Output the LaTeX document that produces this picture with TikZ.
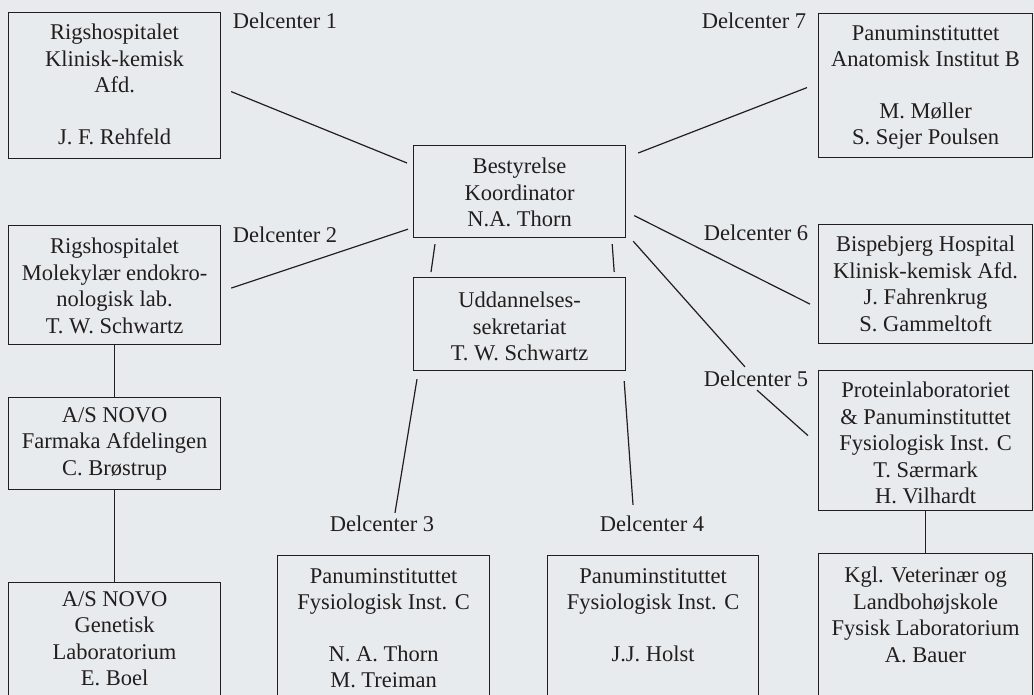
\documentclass[tikz,border=0pt]{standalone}
\usepackage{fontspec}
\setmainfont{Liberation Serif}
\usetikzlibrary{positioning,calc}

\definecolor{paper}{RGB}{232,235,237}
\definecolor{ink}{RGB}{34,30,30}

\tikzset{
  box/.style={draw=ink, line width=1.2pt, anchor=north west, inner sep=0pt},
  txt/.style={align=center, inner sep=0pt, text=ink,
    font=\fontsize{22.5}{26.5}\selectfont},
  centre/.style={inner sep=0pt, text=ink, font=\fontsize{22.5}{26.5}\selectfont},
  link/.style={draw=ink, line width=1.2pt}
}

\begin{document}
\begin{tikzpicture}[x=1pt,y=-1pt]
  \fill[paper] (0,0) rectangle (1034,695);
  \useasboundingbox (0,0) rectangle (1034,695);
  \clip (0,0) rectangle (1034,695);

  % left column
  \node[box, minimum width=212, minimum height=146] (b1) at (8,12) {};
  \node[txt, below=12pt of b1.north] (t1) {Rigshospitalet\\Klinisk-kemisk\\Afd.\\[25pt]J. F. Rehfeld};
  \node[box, minimum width=212, minimum height=119] (b2) at (8,225) {};
  \node[txt, below=13pt of b2.north] (t2) {Rigshospitalet\\Molekylær endokro-\\nologisk lab.\\T. W. Schwartz};
  \node[box, minimum width=212, minimum height=92] (farma) at (8,397) {};
  \node[txt, below=10pt of farma.north] (tfarma) {A/S NOVO\\Farmaka Afdelingen\\C. Brøstrup};
  \node[box, minimum width=212, minimum height=130] (genet) at (8,582) {};
  \node[txt, below=9pt of genet.north] (tgenet) {A/S NOVO\\Genetisk\\Laboratorium\\E. Boel};

  % middle
  \node[box, minimum width=212, minimum height=92] (bestyr) at (413,145) {};
  \node[txt, below=13pt of bestyr.north] (tbestyr) {Bestyrelse\\Koordinator\\N.A. Thorn};
  \node[box, minimum width=212, minimum height=93] (udd) at (413,277) {};
  \node[txt, below=15pt of udd.north] (tudd) {Uddannelses-\\sekretariat\\T. W. Schwartz};
  \node[box, minimum width=212, minimum height=160] (b3) at (277,555) {};
  \node[txt, below=13pt of b3.north] (t3) {Panuminstituttet\\Fysiologisk Inst. C\\[25pt]N. A. Thorn\\M. Treiman};
  \node[box, minimum width=211, minimum height=160] (b4) at (547,555) {};
  \node[txt, below=13pt of b4.north] (t4) {Panuminstituttet\\Fysiologisk Inst. C\\[25pt]J.J. Holst};

  % right column
  \node[box, minimum width=214, minimum height=144] (b7) at (818,13) {};
  \node[txt, below=12pt of b7.north] (t7) {Panuminstituttet\\Anatomisk Institut B\\[25pt]M. Møller\\S. Sejer Poulsen};
  \node[box, minimum width=214, minimum height=119] (b6) at (818,224) {};
  \node[txt, below=12pt of b6.north] (t6) {Bispebjerg Hospital\\Klinisk-kemisk Afd.\\J. Fahrenkrug\\S. Gammeltoft};
  \node[box, minimum width=214, minimum height=140] (b5) at (818,370) {};
  \node[txt, below=12pt of b5.north] (t5) {Proteinlaboratoriet\\\& Panuminstituttet\\Fysiologisk Inst. C\\T. Særmark\\H. Vilhardt};
  \node[box, minimum width=214, minimum height=160] (kgl) at (818,553) {};
  \node[txt, below=14pt of kgl.north] (tkgl) {Kgl. Veterinær og\\Landbohøjskole\\Fysisk Laboratorium\\A. Bauer};

  % delcenter labels
  \node[centre] (d1) at (285,21) {Delcenter 1};
  \node[centre] (d2) at (285,235) {Delcenter 2};
  \node[centre] (d3) at (382,524) {Delcenter 3};
  \node[centre] (d4) at (652,524) {Delcenter 4};
  \node[centre] (d5) at (756,379) {Delcenter 5};
  \node[centre] (d6) at (756,233) {Delcenter 6};
  \node[centre] (d7) at (754,21) {Delcenter 7};

  % connectors
  \draw[link] ($(b1.east)+(10,6)$) -- ($(bestyr.north west)+(-6,18)$);
  \draw[link] ($(b2.east)+(10,3)$) -- ($(bestyr.south west)+(-5,-9)$);
  \draw[link] ($(bestyr.north east)+(12,8)$) -- ($(b7.west)+(-11,2)$);
  \draw[link] ($(bestyr.east)+(8,24)$) -- ($(b6.west)+(-8,20)$);
  \draw[link] ($(bestyr.south east)+(7,3)$) -- ($(d5.north)+(-11,-4)$);
  \draw[link] ($(d5.south)+(1,3)$) -- ($(b5.west)+(-10,-5)$);
  \draw[link] ($(bestyr.south west)+(22,6)$) -- ($(udd.north west)+(18,-5)$);
  \draw[link] ($(bestyr.south east)+(-14,6)$) -- ($(udd.north east)+(-12,-5)$);
  \draw[link] ($(udd.south west)+(4,8)$) -- ($(d3.north)+(13,-3)$);
  \draw[link] ($(udd.south east)+(-2,10)$) -- ($(d4.north)+(-19,-11)$);
  \draw[link] (b2.south) -- (farma.north);
  \draw[link] (farma.south) -- (genet.north);
  \draw[link] (b5.south) -- (kgl.north);
\end{tikzpicture}
\end{document}
